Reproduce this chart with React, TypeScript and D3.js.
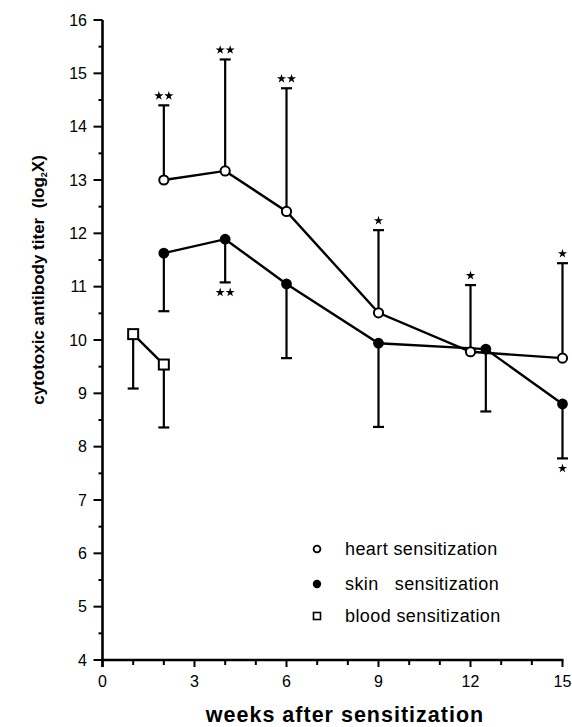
import React, {useEffect, useRef} from 'react';
import * as d3 from 'd3';

// heart sensitization (open circles, error bars upward)
const heartWeeks = [2, 4, 6, 9, 12, 15];
const heartMean = [13.0, 13.17, 12.41, 10.51, 9.78, 9.66];
const heartUpper = [14.4, 15.26, 14.72, 12.06, 11.03, 11.44];
const heartStars = ['**', '**', '**', '*', '*', '*'];

// skin sensitization (filled circles, error bars downward)
const skinWeeks = [2, 4, 6, 9, 12.5, 15];
const skinMean = [11.63, 11.89, 11.05, 9.94, 9.83, 8.8];
const skinLower = [10.54, 11.08, 9.66, 8.37, 8.66, 7.78];
const skinStars = ['', '**', '', '', '', '*'];

// blood sensitization (open squares, error bars downward)
const bloodWeeks = [1, 2];
const bloodMean = [10.11, 9.54];
const bloodLower = [9.09, 8.36];

const xMajor = [0, 3, 6, 9, 12, 15];
const yMajor = [4, 5, 6, 7, 8, 9, 10, 11, 12, 13, 14, 15, 16];

const legendLabels = ['heart sensitization', 'skin   sensitization', 'blood sensitization'];

const font = '"Liberation Sans", Arial, Helvetica, sans-serif';

export default function App() {
    const ref = useRef<SVGSVGElement>(null);

    useEffect(() => {
        const svg = d3.select(ref.current);
        svg.selectAll('*').remove();

        const x = d3.scaleLinear().domain([0, 15]).range([102.5, 562.5]);
        const y = d3.scaleLinear().domain([4, 16]).range([660, 20]);

        const g = svg.append('g');

        // y axis
        g.append('line')
            .attr('x1', x(0)).attr('x2', x(0))
            .attr('y1', y(16)).attr('y2', y(4) + 7)
            .attr('stroke', '#000').attr('stroke-width', 2.6);
        const yMinor = d3.range(4.5, 16, 1);
        g.selectAll('.ymaj').data(yMajor).enter().append('line')
            .attr('x1', x(0) - 9).attr('x2', x(0))
            .attr('y1', d => y(d)).attr('y2', d => y(d))
            .attr('stroke', '#000').attr('stroke-width', 2);
        g.selectAll('.ymin').data(yMinor).enter().append('line')
            .attr('x1', x(0) - 4).attr('x2', x(0))
            .attr('y1', d => y(d)).attr('y2', d => y(d))
            .attr('stroke', '#000').attr('stroke-width', 2);
        g.selectAll('.ylab').data(yMajor).enter().append('text')
            .attr('x', 87).attr('y', d => y(d))
            .attr('dy', '0.36em')
            .attr('text-anchor', 'end')
            .attr('font-family', font).attr('font-size', 16)
            .text(d => d);

        // x axis
        g.append('line')
            .attr('x1', x(0) - 1).attr('x2', x(15) + 1)
            .attr('y1', y(4)).attr('y2', y(4))
            .attr('stroke', '#000').attr('stroke-width', 2.6);
        const xMinor = d3.range(1, 16).filter(d => d % 3 !== 0);
        g.selectAll('.xmaj').data(xMajor).enter().append('line')
            .attr('x1', d => x(d)).attr('x2', d => x(d))
            .attr('y1', y(4)).attr('y2', y(4) + 7)
            .attr('stroke', '#000').attr('stroke-width', 2);
        g.selectAll('.xmin').data(xMinor).enter().append('line')
            .attr('x1', d => x(d)).attr('x2', d => x(d))
            .attr('y1', y(4)).attr('y2', y(4) + 5)
            .attr('stroke', '#000').attr('stroke-width', 2);
        g.selectAll('.xlab').data(xMajor).enter().append('text')
            .attr('x', d => x(d)).attr('y', 687)
            .attr('text-anchor', 'middle')
            .attr('font-family', font).attr('font-size', 16)
            .text(d => d);

        // axis titles
        g.append('text')
            .attr('x', 345).attr('y', 722)
            .attr('text-anchor', 'middle')
            .attr('font-family', font).attr('font-size', 21.5).attr('font-weight', 'bold')
            .attr('letter-spacing', 1)
            .text('weeks after sensitization');
        const yt = g.append('text')
            .attr('transform', 'translate(44,280) rotate(-90)')
            .attr('text-anchor', 'middle')
            .attr('font-family', font).attr('font-size', 17).attr('font-weight', 'bold')
            .style('white-space', 'pre');
        yt.append('tspan').text('cytotoxic antibody titer  (log');
        yt.append('tspan').attr('font-size', 9).attr('dy', 3).text('2');
        yt.append('tspan').attr('dy', -3).text('X)');

        const star = d3.symbol().type(d3.symbolStar).size(26);
        const drawStars = (cx: number, cy: number, s: string) => {
            const n = s.length;
            for (let i = 0; i < n; i++) {
                g.append('path')
                    .attr('d', star)
                    .attr('transform', `translate(${cx + (i - (n - 1) / 2) * 10},${cy})`)
                    .attr('fill', '#000');
            }
        };

        const line = d3.line<[number, number]>().x(d => x(d[0])).y(d => y(d[1]));

        // error bars
        const errBar = (wx: number, from: number, to: number) => {
            g.append('line')
                .attr('x1', x(wx)).attr('x2', x(wx))
                .attr('y1', y(from)).attr('y2', y(to))
                .attr('stroke', '#000').attr('stroke-width', 2.2);
            g.append('line')
                .attr('x1', x(wx) - 5.5).attr('x2', x(wx) + 5.5)
                .attr('y1', y(to)).attr('y2', y(to))
                .attr('stroke', '#000').attr('stroke-width', 2.2);
        };

        heartWeeks.forEach((w, i) => {
            errBar(w, heartMean[i], heartUpper[i]);
            drawStars(x(w), y(heartUpper[i]) - 9.5, heartStars[i]);
        });
        skinWeeks.forEach((w, i) => {
            errBar(w, skinMean[i], skinLower[i]);
            if (skinStars[i]) drawStars(x(w), y(skinLower[i]) + 10, skinStars[i]);
        });
        bloodWeeks.forEach((w, i) => errBar(w, bloodMean[i], bloodLower[i]));

        // lines
        const lineStyle = (p: d3.Selection<SVGPathElement, unknown, null, undefined>) =>
            p.attr('fill', 'none').attr('stroke', '#000').attr('stroke-width', 2.4);
        g.append('path').attr('d', line(heartWeeks.map((w, i) => [w, heartMean[i]] as [number, number]))).call(lineStyle);
        g.append('path').attr('d', line(skinWeeks.map((w, i) => [w, skinMean[i]] as [number, number]))).call(lineStyle);
        g.append('path').attr('d', line(bloodWeeks.map((w, i) => [w, bloodMean[i]] as [number, number]))).call(lineStyle);

        // markers
        g.selectAll('.heart').data(heartWeeks).enter().append('circle')
            .attr('cx', d => x(d)).attr('cy', (d, i) => y(heartMean[i]))
            .attr('r', 4.6).attr('fill', '#fff').attr('stroke', '#000').attr('stroke-width', 2);
        g.selectAll('.skin').data(skinWeeks).enter().append('circle')
            .attr('cx', d => x(d)).attr('cy', (d, i) => y(skinMean[i]))
            .attr('r', 5.4).attr('fill', '#000');
        g.selectAll('.blood').data(bloodWeeks).enter().append('rect')
            .attr('x', d => x(d) - 5).attr('y', (d, i) => y(bloodMean[i]) - 5)
            .attr('width', 10).attr('height', 10)
            .attr('fill', '#fff').attr('stroke', '#000').attr('stroke-width', 2);

        // legend
        const ly = [549, 584, 616];
        g.append('circle').attr('cx', 317).attr('cy', ly[0]).attr('r', 3.4)
            .attr('fill', '#fff').attr('stroke', '#000').attr('stroke-width', 1.8);
        g.append('circle').attr('cx', 317).attr('cy', ly[1]).attr('r', 4.2).attr('fill', '#000');
        g.append('rect').attr('x', 313.5).attr('y', ly[2] - 3.5).attr('width', 7).attr('height', 7)
            .attr('fill', '#fff').attr('stroke', '#000').attr('stroke-width', 1.6);
        g.selectAll('.leg').data(legendLabels).enter().append('text')
            .attr('x', 345).attr('y', (d, i) => ly[i])
            .attr('dy', '0.36em')
            .attr('font-family', font).attr('font-size', 18)
            .attr('letter-spacing', 0.4)
            .style('white-space', 'pre')
            .text(d => d);
    }, []);

    return (
        <svg ref={ref} width={572} height={727}
             style={{position: 'absolute', left: 0, top: 0, background: '#fff'}}/>
    );
}
